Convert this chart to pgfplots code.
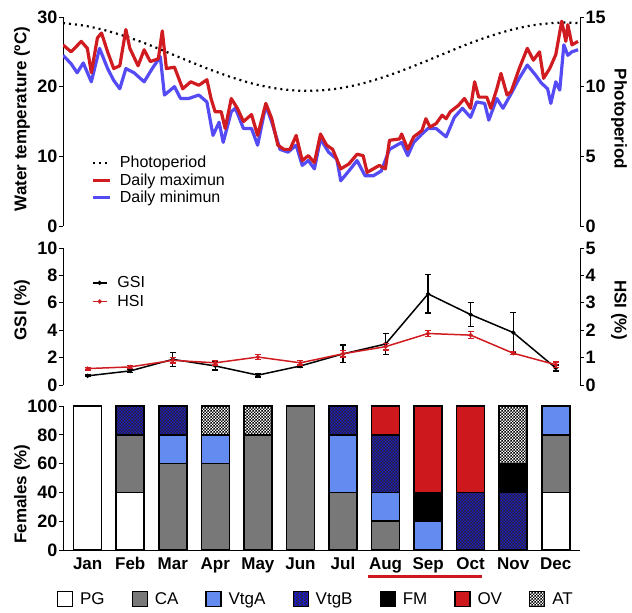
\documentclass[border=0pt]{standalone}
\usepackage{pgfplots}
\pgfplotsset{compat=1.18}
\usepackage{fontspec}
\setmainfont{Liberation Sans}
\usetikzlibrary{patterns}
\pgfdeclarepatternformonly{smallcheck}{\pgfpointorigin}{\pgfpoint{3.4pt}{3.4pt}}{\pgfpoint{3.4pt}{3.4pt}}{%
  \pgfpathrectangle{\pgfpointorigin}{\pgfpoint{1.7pt}{1.7pt}}%
  \pgfpathrectangle{\pgfpoint{1.7pt}{1.7pt}}{\pgfpoint{1.7pt}{1.7pt}}%
  \pgfusepath{fill}}
\definecolor{tred}{RGB}{208,28,32}
\definecolor{tblue}{RGB}{85,75,245}
\definecolor{cagray}{RGB}{120,120,120}
\definecolor{vtga}{RGB}{100,140,240}
\definecolor{vtgb}{RGB}{30,25,210}
\definecolor{ovred}{RGB}{205,25,30}
\newcommand{\tickfont}{\bfseries\fontsize{18}{18}\selectfont}
\newcommand{\labfont}{\bfseries\fontsize{17}{17}\selectfont}
\newcommand{\legfont}{\fontsize{16}{16}\selectfont}
\pgfplotsset{
  every axis/.append style={
    scale only axis, line width=1pt,
    axis line style={-, black, line width=1pt},
    tick style={line width=1pt, black},
    major tick length=4pt, tick align=outside,
    ticklabel style={font=\tickfont, inner sep=1pt},
    /pgf/number format/assume math mode=true,
  },
}
\begin{document}
\begin{tikzpicture}
\useasboundingbox (0,0) rectangle (632pt,-613pt);
% ---------------- top panel: photoperiod (right axis)
\begin{axis}[at={(63pt,-226pt)}, anchor=south west, width=517pt, height=209pt,
  xmin=0, xmax=365, ymin=0, ymax=15, axis x line=none, axis y line*=right,
  ytick={0,5,10,15}]
\addplot[black, line width=2.2pt, dash pattern=on 2pt off 4pt, smooth] coordinates {
(0,14.56)(15,14.38)(30,14.04)(45,13.58)(60,13.03)(75,12.41)(90,11.78)(105,11.18)(120,10.64)(135,10.19)(150,9.88)(165,9.72)(180,9.72)(195,9.88)(210,10.19)(225,10.64)(240,11.18)(255,11.78)(270,12.41)(285,13.03)(300,13.58)(315,14.04)(330,14.38)(345,14.56)(355,14.6)(365,14.56)};
\end{axis}
% ---------------- top panel: temperatures (left axis)
\begin{axis}[at={(63pt,-226pt)}, anchor=south west, width=517pt, height=209pt,
  xmin=0, xmax=365, ymin=0, ymax=30, axis x line=none, axis y line*=left,
  ytick={0,10,20,30},
  legend cell align=left,
  legend image code/.code={\draw[#1] (0pt,0pt) -- (17pt,0pt);},
  legend style={at={(rel axis cs:0.055,0.345)}, anchor=north west, draw=none, fill=none, font=\legfont, row sep=0pt, inner sep=0pt,
    /tikz/every odd column/.append style={column sep=6pt}}]
\addlegendimage{black, line width=2.2pt, dash pattern=on 2pt off 4pt}
\addlegendentry{Photoperiod}
\addlegendimage{tred, line width=3pt}
\addlegendentry{Daily maximun}
\addlegendimage{tblue, line width=3pt}
\addlegendentry{Daily minimun}
\addplot[forget plot, tblue, line width=3.2pt, line join=round] coordinates {
(0,24.5)(5.7,23.3)(10,22)(14.3,23.4)(20,20.7)(25.8,25.5)(31.5,22.6)(35.8,20.9)(40.1,19.7)(44.4,22.6)(50.1,22)(57.3,20.7)(63,22.6)(68.7,24.3)(71.6,18.8)(78.7,20)(83,18.3)(88.8,18.3)(95.9,18.8)(101.6,17.8)(105.9,13)(110.2,14.9)(113.1,12)(118.8,16.4)(121.7,16.9)(127.4,14)(133.1,14)(137.4,11.6)(143.2,17.3)(147.4,14.9)(153.2,11)(158.9,10.6)(164.6,11.6)(168.9,8.7)(173.2,9.4)(177.5,8.2)(181.8,12.5)(187.5,10.6)(193.3,9.6)(196.1,6.5)(201.8,7.9)(207.6,9.4)(213.3,7.2)(219,7.2)(224.7,7.9)(230.5,11)(239.1,12)(243.4,10.1)(247.6,12)(253.4,13.2)(257.7,14)(263.4,14)(270.5,12.8)(276.3,15.6)(282,16.9)(287.7,15.6)(292,17.8)(297.7,17.6)(300.6,15.2)(306.3,18.3)(310.6,16.9)(316.4,19)(322.1,21.2)(327.8,23.1)(333.5,21.7)(337.8,20.5)(342.1,19.7)(344.4,17.6)(347.9,20.7)(350.7,19.5)(353.6,26)(356.4,24.5)(359.3,25)(363.6,25.3)};
\addplot[forget plot, tred, line width=3.2pt, line join=round] coordinates {
(0,26.0)(5.7,25)(12.9,26.5)(17.2,25.5)(20,22)(24.3,27)(27.2,27.7)(31.5,25)(35.8,22.6)(40.1,23)(44.4,28.2)(47.2,25.5)(53,23)(57.3,25.3)(61.6,23.6)(67.3,24)(70.1,28)(73,22.6)(78.7,22.8)(84.5,19.7)(90.2,20.7)(95.9,20.2)(101.6,21)(104.5,18.3)(107.4,16.4)(111.7,16.4)(114.5,14)(118.8,18.3)(123.1,16.9)(127.4,15)(133.1,16)(137.4,13)(143.2,17.6)(147.4,15.4)(151.7,11.6)(156,11)(160.3,11)(164.6,13)(168.9,9.4)(173.2,10.1)(177.5,9.1)(181.8,13.2)(186.1,11.6)(190.4,11)(196.1,8.2)(201.8,8.9)(207.6,10.3)(211.9,10.1)(214.7,7.7)(219,8.2)(223.3,8.7)(227.6,8.2)(230.5,12.3)(237.6,12.5)(239.1,13.2)(243.4,11)(247.6,12.8)(253.4,13.7)(256.2,15.4)(259.1,14.2)(263.4,14.7)(267.7,15.9)(270.5,15.4)(273.4,16.4)(279.1,17.3)(283.4,18.3)(287.7,16.9)(290.6,20.7)(293.5,18.5)(299.2,18.5)(302,16.9)(306.3,19.7)(309.2,21.9)(313.5,18.8)(316.4,19.3)(322.1,22.6)(327.8,25.5)(332.1,23.8)(336.4,25)(339.3,21.2)(343.6,22.6)(347.9,24.6)(352.1,29.4)(355,26.5)(356.4,28.9)(359.3,26)(363.6,26.5)};
\end{axis}
% ---------------- middle panel: GSI (left)
\begin{axis}[at={(63pt,-385pt)}, anchor=south west, width=517pt, height=137pt,
  xmin=0.42, xmax=12.57, ymin=0, ymax=10, axis x line=none, axis y line*=left,
  ytick={0,2,4,6,8,10},
  legend cell align=left,
  legend image code/.code={\draw[mark repeat=2,mark phase=2,#1] plot coordinates {(0pt,0pt) (7pt,0pt) (14pt,0pt)};},
  legend style={at={(rel axis cs:0.055,0.81)}, anchor=north west, draw=none, fill=none, font=\legfont, row sep=2pt, inner sep=0pt,
    /tikz/every odd column/.append style={column sep=8pt}}]
\addplot[black, line width=1.5pt, mark=*, mark size=1.3pt,
  error bars/.cd, y dir=both, y explicit, error bar style={line width=1.2pt, black},
  error mark options={rotate=90, mark size=3pt, line width=1.2pt, black}]
  coordinates {
(1,0.67) +- (0,0.06)
(2,1.03) +- (0,0.12)
(3,1.87) +- (0,0.5)
(4,1.39) +- (0,0.3)
(5,0.72) +- (0,0.14)
(6,1.39) +- (0,0.1)
(7,2.27) +- (0,0.65)
(8,2.99) +- (0,0.78)
(9,6.65) +- (0,1.4)
(10,5.14) +- (0,0.86)
(11,3.83) +- (0,1.45)
(12,1.24) +- (0,0.22)};
\addlegendentry{GSI}
\addlegendimage{tred, line width=1.5pt, mark=*, mark size=1.3pt}
\addlegendentry{HSI}
\end{axis}
% ---------------- middle panel: HSI (right)
\begin{axis}[at={(63pt,-385pt)}, anchor=south west, width=517pt, height=137pt,
  xmin=0.42, xmax=12.57, ymin=0, ymax=5, axis x line=none, axis y line*=right,
  ytick={0,1,2,3,4,5}]
\addplot[tred, line width=1.5pt, mark=*, mark size=1.3pt,
  error bars/.cd, y dir=both, y explicit, error bar style={line width=1.2pt, tred},
  error mark options={rotate=90, mark size=3pt, line width=1.2pt, tred}]
  coordinates {
(1,0.60) +- (0,0.05)
(2,0.66) +- (0,0.06)
(3,0.90) +- (0,0.1)
(4,0.81) +- (0,0.08)
(5,1.02) +- (0,0.1)
(6,0.81) +- (0,0.08)
(7,1.14) +- (0,0.12)
(8,1.40) +- (0,0.12)
(9,1.88) +- (0,0.12)
(10,1.82) +- (0,0.12)
(11,1.16) +- (0,0.06)
(12,0.74) +- (0,0.1)};
\end{axis}
% ---------------- bottom panel: stacked bars
\begin{axis}[at={(63pt,-550pt)}, anchor=south west, width=517pt, height=144pt,
  xmin=0.42, xmax=12.57, ymin=0, ymax=100, clip=false,
  axis x line*=bottom, axis y line*=left,
  ybar stacked, bar width=28pt,
  ytick={0,20,40,60,80,100},
  xtick={1,...,12}, xticklabels={Jan,Feb,Mar,Apr,May,Jun,Jul,Aug,Sep,Oct,Nov,Dec},
  xtick style={draw=none},
  xticklabel style={font=\labfont, inner sep=2pt, yshift=-1pt},
  every axis plot/.append style={draw=black, line width=1.6pt},
  legend columns=7,
  legend image code/.code={\draw[#1, draw=black, line width=1.2pt] (0pt,-7.5pt) rectangle (15pt,7.5pt);},
  legend style={at={(rel axis cs:0.489,-0.34)}, anchor=center, draw=none, fill=none,
    font=\fontsize{17}{17}\selectfont, inner sep=0pt,
    /tikz/every odd column/.append style={column sep=5pt},
    /tikz/every even column/.append style={column sep=25pt}}]
\addplot[fill=white] coordinates {(1,100)(2,40)(3,0)(4,0)(5,0)(6,0)(7,0)(8,0)(9,0)(10,0)(11,0)(12,40)};
\addlegendentry{PG}
\addplot[fill=cagray] coordinates {(1,0)(2,40)(3,60)(4,60)(5,80)(6,100)(7,40)(8,20)(9,0)(10,0)(11,0)(12,40)};
\addlegendentry{CA}
\addplot[fill=vtga] coordinates {(1,0)(2,0)(3,20)(4,20)(5,0)(6,0)(7,40)(8,20)(9,20)(10,0)(11,0)(12,20)};
\addlegendentry{VtgA}
\addplot[fill=vtgb, postaction={pattern=smallcheck, pattern color=black!85}] coordinates {(1,0)(2,20)(3,20)(4,0)(5,0)(6,0)(7,20)(8,40)(9,0)(10,40)(11,40)(12,0)};
\addlegendentry{VtgB}
\addplot[fill=black] coordinates {(1,0)(2,0)(3,0)(4,0)(5,0)(6,0)(7,0)(8,0)(9,20)(10,0)(11,20)(12,0)};
\addlegendentry{FM}
\addplot[fill=ovred] coordinates {(1,0)(2,0)(3,0)(4,0)(5,0)(6,0)(7,0)(8,20)(9,60)(10,60)(11,0)(12,0)};
\addlegendentry{OV}
\addplot[fill=white, postaction={pattern=smallcheck, pattern color=black}] coordinates {(1,0)(2,0)(3,0)(4,20)(5,20)(6,0)(7,0)(8,0)(9,0)(10,0)(11,40)(12,0)};
\addlegendentry{AT}
\draw[ovred, line width=3pt] (axis cs:7.59,-18.7) -- (axis cs:10.27,-18.7);
\end{axis}
% ---------------- axis titles
\node[rotate=90, font=\labfont, inner sep=0pt] at (22pt,-119pt) {Water temperature (ºC)};
\node[rotate=-90, font=\labfont, inner sep=0pt] at (619pt,-119pt) {Photoperiod};
\node[rotate=90, font=\labfont, inner sep=0pt] at (22pt,-310pt) {GSI (\%)};
\node[rotate=-90, font=\labfont, inner sep=0pt] at (619pt,-310pt) {HSI (\%)};
\node[rotate=90, font=\labfont, inner sep=0pt] at (22pt,-494pt) {Females (\%)};
\end{tikzpicture}
\end{document}
